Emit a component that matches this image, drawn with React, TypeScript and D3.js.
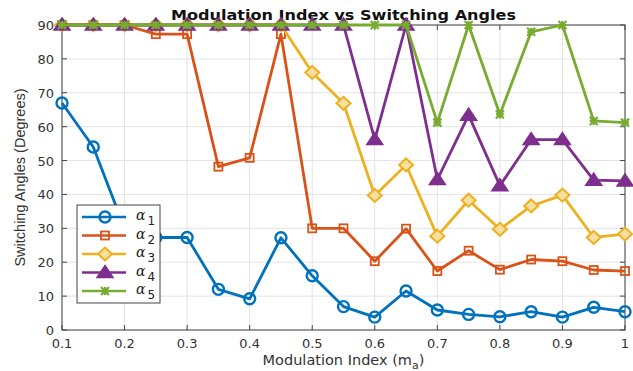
import React, { useRef, useEffect } from 'react'
import * as d3 from 'd3'

const mIndex = [0.1, 0.15, 0.2, 0.25, 0.3, 0.35, 0.4, 0.45, 0.5, 0.55, 0.6, 0.65, 0.7, 0.75, 0.8, 0.85, 0.9, 0.95, 1.0]
const alpha1 = [67, 54, 30, 27.3, 27.3, 12, 9.2, 27.2, 16, 6.9, 3.8, 11.5, 5.9, 4.6, 3.9, 5.4, 3.8, 6.7, 5.4]
const alpha2 = [90, 90, 90, 87.3, 87.3, 48.2, 50.8, 87.3, 30, 30, 20.3, 29.9, 17.4, 23.4, 17.8, 20.8, 20.3, 17.7, 17.4]
const alpha3 = [90, 90, 90, 90, 90, 90, 90, 90, 76, 66.9, 39.7, 48.7, 27.7, 38.3, 29.7, 36.6, 39.8, 27.3, 28.3]
const alpha4 = [90, 90, 90, 90, 90, 90, 90, 90, 90, 90, 56.2, 90, 44.4, 63.4, 42.6, 56.2, 56.2, 44.2, 44]
const alpha5 = [90, 90, 90, 90, 90, 90, 90, 90, 90, 90, 90, 90, 61.2, 90, 63.6, 88, 90, 61.7, 61.2]
const xTicks = [0.1, 0.2, 0.3, 0.4, 0.5, 0.6, 0.7, 0.8, 0.9, 1]
const yTicks = [0, 10, 20, 30, 40, 50, 60, 70, 80, 90]

const series = [
    { name: '1', values: alpha1, color: '#0072BD', marker: 'circle' },
    { name: '2', values: alpha2, color: '#D95319', marker: 'square' },
    { name: '3', values: alpha3, color: '#EDB120', marker: 'diamond' },
    { name: '4', values: alpha4, color: '#7E2F8E', marker: 'triangle' },
    { name: '5', values: alpha5, color: '#77AC30', marker: 'star' },
]

const drawMarker = (g: any, type: string, color: string, x: number, y: number) => {
    if (type === 'circle') {
        g.append('circle').attr('cx', x).attr('cy', y).attr('r', 5.5)
            .attr('fill', 'none').attr('stroke', color).attr('stroke-width', 2.4)
    } else if (type === 'square') {
        g.append('rect').attr('x', x - 4).attr('y', y - 4).attr('width', 8).attr('height', 8)
            .attr('fill', 'none').attr('stroke', color).attr('stroke-width', 1.8)
    } else if (type === 'diamond') {
        g.append('path').attr('d', `M${x},${y - 6.5}L${x + 7},${y}L${x},${y + 6.5}L${x - 7},${y}Z`)
            .attr('fill', '#f6dfa0').attr('stroke', color).attr('stroke-width', 2)
    } else if (type === 'triangle') {
        g.append('path').attr('d', `M${x},${y - 7}L${x + 8},${y + 5}L${x - 8},${y + 5}Z`)
            .attr('fill', color).attr('stroke', color).attr('stroke-width', 1.5)
    } else {
        const s = 4
        g.append('path')
            .attr('d', `M${x - s},${y}L${x + s},${y}M${x},${y - s}L${x},${y + s}M${x - s},${y - s}L${x + s},${y + s}M${x - s},${y + s}L${x + s},${y - s}`)
            .attr('stroke', color).attr('stroke-width', 2.2)
    }
}

const App = () => {
    const element = useRef<SVGSVGElement>(null)

    useEffect(() => {
        const width = 633
        const height = 371
        const margin = { left: 62, right: 8, top: 25, bottom: 41 }

        const svg = d3.select(element.current)
        svg.selectAll('*').remove()

        const x = d3.scaleLinear().domain([0.1, 1]).range([margin.left, width - margin.right])
        const y = d3.scaleLinear().domain([0, 90]).range([height - margin.bottom, margin.top])

        svg.append('rect').attr('width', width).attr('height', height).attr('fill', '#fff')

        // grid
        const grid = svg.append('g')
        xTicks.forEach(t => {
            grid.append('line').attr('x1', x(t)).attr('x2', x(t)).attr('y1', y(0)).attr('y2', y(90))
                .attr('stroke', '#e3e3e3').attr('stroke-width', 1)
        })
        yTicks.forEach(t => {
            grid.append('line').attr('x1', x(0.1)).attr('x2', x(1)).attr('y1', y(t)).attr('y2', y(t))
                .attr('stroke', '#e3e3e3').attr('stroke-width', 1)
        })

        // axes box
        svg.append('rect').attr('x', x(0.1)).attr('y', y(90))
            .attr('width', x(1) - x(0.1)).attr('height', y(0) - y(90))
            .attr('fill', 'none').attr('stroke', '#444').attr('stroke-width', 1)

        const font = 'DejaVu Sans, Verdana, sans-serif'
        const axes = svg.append('g').attr('font-family', font).attr('font-size', 13).attr('fill', '#333')
        xTicks.forEach(t => {
            axes.append('line').attr('x1', x(t)).attr('x2', x(t)).attr('y1', y(0)).attr('y2', y(0) - 5).attr('stroke', '#444')
            axes.append('line').attr('x1', x(t)).attr('x2', x(t)).attr('y1', y(90)).attr('y2', y(90) + 5).attr('stroke', '#444')
            axes.append('text').attr('x', x(t)).attr('y', y(0) + 18).attr('text-anchor', 'middle').text(d3.format('~g')(t))
        })
        yTicks.forEach(t => {
            axes.append('line').attr('x1', x(0.1)).attr('x2', x(0.1) + 5).attr('y1', y(t)).attr('y2', y(t)).attr('stroke', '#444')
            axes.append('line').attr('x1', x(1)).attr('x2', x(1) - 5).attr('y1', y(t)).attr('y2', y(t)).attr('stroke', '#444')
            axes.append('text').attr('x', x(0.1) - 8).attr('y', y(t) + 5).attr('text-anchor', 'end').text(t)
        })

        const xl = axes.append('text').attr('x', (x(0.1) + x(1)) / 2).attr('y', height - 6)
            .attr('text-anchor', 'middle').attr('font-size', 14.5)
        xl.append('tspan').text('Modulation Index (m')
        xl.append('tspan').attr('font-size', 11).attr('dy', 4).text('a')
        xl.append('tspan').attr('dy', -4).text(')')

        axes.append('text').attr('transform', `translate(25,${(y(0) + y(90)) / 2}) rotate(-90)`)
            .attr('text-anchor', 'middle').attr('font-family', 'Liberation Sans, Arial, sans-serif')
            .attr('font-size', 14.5)
            .text('Switching Angles (Degrees)')

        svg.append('text').attr('x', (x(0.1) + x(1)) / 2).attr('y', 20).attr('text-anchor', 'middle')
            .attr('font-family', font).attr('font-size', 14).attr('font-weight', 'bold').attr('fill', '#111')
            .attr('textLength', 345).attr('lengthAdjust', 'spacingAndGlyphs')
            .text('Modulation Index vs Switching Angles')

        // series
        const line = d3.line<number>().x((d, i) => x(mIndex[i])).y(d => y(d))
        series.forEach(s => {
            const g = svg.append('g')
            g.append('path').attr('d', line(s.values)).attr('fill', 'none')
                .attr('stroke', s.color).attr('stroke-width', 2.8).attr('stroke-linejoin', 'round')
            s.values.forEach((v, i) => drawMarker(g, s.marker, s.color, x(mIndex[i]), y(v)))
        })

        // legend
        const lx = 77, ly = 205, lw = 83, lh = 98
        const legend = svg.append('g')
        legend.append('rect').attr('x', lx).attr('y', ly).attr('width', lw).attr('height', lh)
            .attr('fill', '#fff').attr('stroke', '#444').attr('stroke-width', 1)
        series.forEach((s, i) => {
            const yy = ly + 12 + i * 18.5
            legend.append('line').attr('x1', lx + 5).attr('x2', lx + 49).attr('y1', yy).attr('y2', yy)
                .attr('stroke', s.color).attr('stroke-width', 2.6)
            drawMarker(legend, s.marker, s.color, lx + 28, yy)
            const t = legend.append('text').attr('x', lx + 59).attr('y', yy + 3)
                .attr('font-family', 'DejaVu Serif, serif').attr('font-style', 'italic').attr('font-size', 14).attr('fill', '#222')
            t.append('tspan').text('α')
            t.append('tspan').attr('font-style', 'normal').attr('font-family', font).attr('font-size', 12).attr('dy', 5).attr('dx', 2).text(s.name)
        })
    }, [])

    return (
        <svg ref={element} width={633} height={371} style={{ position: 'absolute', left: 0, top: 0 }}></svg>
    )
}

export default App
